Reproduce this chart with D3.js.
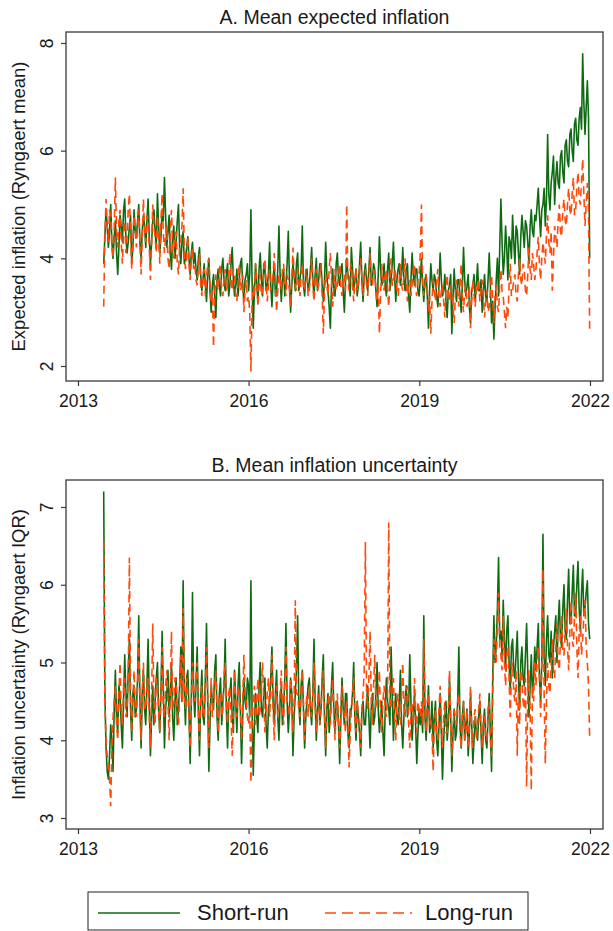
<!DOCTYPE html>
<html>
<head>
<meta charset="utf-8">
<script src="https://cdn.jsdelivr.net/npm/d3@7"></script>
<style>
  html, body { margin: 0; padding: 0; background: #fff; }
  svg { display: block; font-family: "Liberation Sans", Arial, sans-serif; }
</style>
</head>
<body>
<div id="viz"></div>
<script>
// weekly-ish observations (every 7.5 days), first one mid June 2013
const startDate = new Date(2013, 5, 15);
const stepHours = 180;

const yearTicks = [2013, 2016, 2019, 2022];
const ticksMean = [2, 4, 6, 8];
const ticksIqr = [3, 4, 5, 6, 7];
const seriesNames = ['Short-run', 'Long-run'];

const shortRunMean = [
  3.9,4.4,4.9,4.6,4.2,4.5,5.0,4.3,4.0,4.4,4.7,4.1,3.7,4.2,4.8,4.6,4.3,4.9,5.1,4.4,4.1,4.3,4.6,4.8,3.9,4.2,4.9,4.5,
  4.4,4.7,5.0,4.3,4.0,4.5,4.8,4.6,4.2,4.7,5.1,4.4,3.9,4.3,4.7,4.9,4.5,4.2,5.2,4.6,4.1,4.4,4.9,4.7,5.5,4.8,4.2,4.5,4.8,4.1,3.8,4.4,4.6,4.0,4.3,4.7,5.0,4.2,3.9,4.3,4.5,3.9,4.0,4.2,4.4,4.0,3.7,4.1,4.3,3.9,
  4.1,3.8,3.6,4.0,4.2,3.7,3.4,3.6,3.9,3.5,3.2,3.7,4.0,3.4,3.0,3.5,3.7,3.3,2.9,3.6,3.8,3.5,3.3,3.8,4.0,3.6,3.4,3.7,3.9,3.3,3.5,3.9,4.2,3.6,3.3,3.5,3.8,3.3,3.6,3.9,4.0,3.5,3.2,3.6,3.7,3.9,3.4,3.7,
  4.9,3.6,2.7,3.4,3.9,3.5,3.2,3.8,4.1,3.6,3.3,3.9,3.8,3.4,3.5,3.7,4.3,3.5,3.1,3.6,3.9,3.3,3.4,3.8,4.6,3.7,3.2,3.6,3.8,3.3,3.5,3.9,4.5,3.6,3.0,3.5,3.9,3.7,3.4,3.9,4.1,3.4,3.6,3.8,4.6,3.5,3.3,3.7,3.8,3.4,
  3.5,3.8,4.2,3.6,3.3,3.7,4.0,3.4,3.6,3.9,3.9,3.5,3.2,3.6,4.3,3.7,3.4,3.1,2.7,3.5,3.8,3.4,3.3,3.9,4.1,3.6,3.5,3.8,3.9,3.4,3.0,3.6,4.0,3.7,3.6,3.3,4.2,3.8,3.4,3.6,3.8,3.3,3.5,3.9,4.3,3.6,3.2,3.7,
  3.9,3.6,3.4,3.8,4.2,3.5,3.6,3.9,3.8,3.4,3.1,3.7,4.4,3.8,3.5,3.6,3.9,3.5,3.3,3.8,4.1,3.4,3.6,3.9,4.3,3.7,3.2,3.6,3.8,3.9,3.5,3.7,4.2,3.6,3.4,3.8,3.9,3.3,3.0,3.6,4.1,3.7,3.5,3.8,3.8,3.4,3.3,3.6,
  4.0,3.5,3.2,3.6,3.7,3.3,2.7,3.4,3.9,3.6,3.4,3.7,3.6,3.3,3.1,3.5,4.1,3.6,3.3,3.4,3.7,3.2,2.9,3.4,3.5,3.7,2.6,3.3,3.8,3.4,3.2,3.6,3.6,3.3,3.0,3.5,4.2,3.6,3.3,3.5,3.7,3.1,2.8,3.4,3.5,3.7,3.2,3.5,3.9,3.4,
  3.4,3.6,3.0,3.4,3.7,3.3,3.2,3.6,4.1,3.5,2.8,3.2,2.5,3.1,3.6,4.0,3.3,4.2,5.1,4.3,3.7,4.0,4.6,4.2,3.6,4.4,4.3,4.0,4.8,4.3,3.9,4.6,4.5,4.1,3.7,4.4,4.8,4.5,4.2,4.7,4.6,4.3,3.9,4.6,4.9,4.5,4.4,4.8,
  4.7,5.0,5.3,4.8,4.4,4.9,5.0,5.3,4.6,5.1,6.3,5.2,4.9,5.4,5.6,5.9,5.0,5.5,5.8,5.4,5.3,5.9,6.0,5.6,5.4,6.1,6.2,5.8,5.7,6.3,6.4,6.0,5.8,6.5,6.6,6.2,6.1,6.6,6.8,6.4,7.8,6.9,6.3,6.8,7.3,6.6,4.0
];

const longRunMean = [
  3.1,4.4,5.1,4.6,4.3,4.9,4.8,4.2,4.0,4.6,5.5,4.5,4.2,4.7,4.9,4.3,3.9,4.5,4.7,4.1,4.4,4.9,5.2,4.4,3.8,4.3,4.8,4.5,
  4.2,4.6,4.9,4.3,3.7,4.4,5.1,4.5,4.3,4.8,4.7,4.2,3.6,4.3,5.0,4.6,4.4,4.1,4.8,4.4,3.9,4.7,5.2,4.5,4.1,4.4,4.6,4.0,3.8,4.5,4.9,4.2,4.0,4.4,4.5,3.9,3.7,4.2,4.3,4.6,5.3,4.1,3.8,4.0,4.4,3.9,3.6,4.0,4.2,3.8,
  3.9,3.6,3.5,3.8,4.1,3.5,3.3,3.7,3.8,3.3,3.6,3.9,4.0,3.5,3.2,3.4,2.35,3.3,3.7,3.5,3.4,3.8,3.9,3.4,3.3,3.6,3.8,3.4,3.5,3.7,4.1,3.6,3.4,3.8,3.7,3.3,3.2,3.6,3.9,3.4,3.5,3.7,3.0,3.4,3.6,3.2,3.3,3.0,
  1.9,3.2,3.5,3.3,3.9,3.6,3.1,3.5,3.7,3.3,3.4,3.8,4.0,3.6,3.2,3.5,3.8,3.4,3.5,3.7,4.1,3.5,3.0,3.4,3.7,3.6,3.4,3.8,3.9,3.5,3.3,3.7,3.6,3.4,3.1,3.6,4.2,3.7,3.5,3.4,3.8,3.6,3.3,3.7,3.9,3.5,3.4,3.8,3.7,3.3,
  3.4,3.7,4.0,3.5,3.2,3.6,3.8,3.4,3.5,3.7,3.9,3.3,2.6,3.4,3.7,3.5,3.3,3.8,4.1,3.6,3.1,3.5,3.8,3.4,3.5,3.7,3.9,3.5,3.3,3.6,3.7,3.4,5.0,3.6,3.4,3.8,3.9,3.5,3.2,3.6,3.8,3.4,3.5,3.8,4.0,3.6,3.3,3.6,
  3.8,3.5,3.3,3.7,4.1,3.6,3.5,3.8,3.7,3.4,3.2,3.5,2.6,3.3,3.9,3.6,3.4,3.7,3.8,3.4,3.1,3.6,4.0,3.5,3.5,3.8,3.7,3.4,3.3,3.6,3.9,3.5,3.4,3.7,4.0,3.6,3.2,3.5,3.6,3.3,3.5,3.8,3.9,3.4,3.3,3.6,3.7,4.1,
  5.0,3.6,3.3,3.5,3.7,3.4,3.0,3.3,2.6,3.2,3.6,3.4,3.2,3.6,3.8,3.3,3.1,3.4,3.5,3.2,2.9,3.4,3.7,3.3,3.2,3.5,3.4,3.1,2.8,3.3,3.6,3.4,3.1,3.5,3.9,3.3,3.0,3.4,3.5,3.1,3.2,3.5,2.7,3.2,3.6,3.3,3.1,3.5,3.4,3.6,
  3.2,3.4,3.6,3.3,2.9,3.2,3.4,3.0,3.1,3.4,3.7,3.2,2.8,3.3,3.5,3.1,3.0,3.5,3.8,3.4,3.3,3.0,2.7,3.1,2.9,3.5,3.9,3.3,3.4,3.6,3.7,3.3,3.2,3.7,4.0,3.6,3.5,3.9,3.8,3.4,3.3,3.7,4.2,3.8,3.6,4.1,3.9,3.6,
  3.8,4.1,4.4,3.9,3.6,4.0,4.3,4.1,3.9,4.4,4.8,4.3,4.1,4.5,3.4,4.0,4.6,4.4,4.2,4.7,5.0,4.5,4.4,4.9,5.1,4.7,4.6,5.0,5.3,4.9,4.8,5.2,5.5,4.8,4.9,5.3,5.6,5.1,5.0,5.4,5.85,5.2,4.6,5.0,5.4,4.9,2.6
];

const shortRunIqr = [
  7.2,4.6,3.9,3.6,3.5,3.8,4.2,4.0,3.6,4.4,4.9,4.3,4.1,4.7,4.6,4.2,3.9,4.5,5.1,4.6,4.3,4.9,5.3,4.4,4.0,4.6,4.7,4.3,
  4.4,4.8,5.6,4.5,3.9,4.6,4.9,4.4,4.2,4.7,5.3,4.5,3.8,4.3,4.7,4.2,4.5,4.8,5.0,4.4,4.1,4.6,5.4,4.7,3.9,4.4,4.6,4.9,4.3,4.6,5.0,4.3,4.0,4.5,4.8,4.2,4.4,4.7,5.2,4.5,6.05,4.6,4.2,4.8,4.9,4.4,3.7,4.5,5.9,4.6,
  4.3,4.7,5.2,4.4,3.8,4.5,4.9,4.3,4.2,4.8,5.5,4.6,3.6,4.2,4.7,4.5,4.4,4.9,5.1,4.3,4.0,4.6,4.8,4.2,4.5,4.7,5.3,4.4,3.9,4.5,4.6,4.8,4.3,4.1,4.9,4.5,4.1,4.7,5.0,4.4,3.7,4.3,4.8,4.5,4.4,4.8,4.7,4.3,
  6.05,4.4,3.55,4.2,4.6,4.3,4.1,4.7,5.0,4.4,4.3,4.6,4.8,4.2,3.9,4.4,4.5,4.8,5.2,4.5,4.2,4.6,4.9,4.3,4.0,4.5,4.7,4.2,4.4,4.8,5.5,4.5,4.1,4.4,4.8,4.6,3.8,4.3,4.6,4.9,5.6,4.5,4.2,4.7,4.9,4.4,3.9,4.3,4.5,4.7,
  4.8,4.4,4.2,4.6,5.3,4.5,4.0,4.4,4.7,4.2,4.4,4.8,5.1,4.3,3.8,4.4,4.6,4.1,4.3,4.7,5.0,4.4,4.1,4.5,4.5,4.2,3.7,4.3,4.8,4.4,4.2,4.6,4.6,4.1,3.9,4.4,4.4,4.6,5.0,4.3,4.0,4.5,4.3,4.1,3.8,4.4,4.5,4.2,
  4.2,4.5,4.7,4.3,3.9,4.4,4.6,4.2,4.3,4.6,5.0,4.4,4.1,4.3,4.5,4.1,3.8,4.4,4.8,4.5,4.4,4.2,5.2,4.6,4.0,4.4,4.6,4.3,4.2,4.5,4.9,4.2,3.9,4.3,4.5,4.7,4.3,4.4,5.1,4.5,4.0,4.3,4.6,4.2,3.7,4.1,4.4,4.2,
  4.4,4.1,5.6,4.3,4.0,4.4,4.7,4.1,4.2,4.5,3.9,4.3,4.5,4.0,3.8,4.2,4.6,4.1,3.5,4.0,4.3,4.5,4.0,4.2,4.8,4.3,3.6,4.1,4.4,4.0,4.1,4.5,5.2,4.2,3.9,4.3,4.5,4.0,4.2,4.4,3.8,4.1,4.6,4.2,3.7,4.0,4.3,4.1,4.0,4.3,
  4.5,4.1,3.7,4.2,4.4,4.0,3.9,4.3,4.6,4.1,3.6,4.8,5.6,5.0,5.2,5.7,6.35,5.3,5.4,5.1,5.8,5.3,4.9,5.4,5.6,5.0,4.6,5.2,5.3,4.9,4.8,5.1,5.4,4.8,4.4,5.0,5.2,4.8,4.7,5.1,5.5,4.9,4.3,4.7,5.1,4.6,4.8,5.2,
  4.9,5.2,5.5,4.8,4.5,5.0,6.65,5.1,4.7,5.3,5.6,5.1,5.0,5.4,4.8,5.2,5.4,5.6,5.0,5.5,5.8,5.3,5.2,5.7,6.0,5.4,5.3,5.8,6.2,5.5,5.5,5.9,6.25,5.6,5.6,6.0,6.3,5.7,5.4,5.9,6.2,5.6,5.7,5.9,6.05,5.5,5.3
];

const longRunIqr = [
  6.55,4.5,4.0,3.8,3.7,3.5,3.15,3.9,4.3,4.5,4.7,4.2,4.0,4.6,5.0,4.4,4.2,4.7,4.8,4.3,4.4,4.8,6.35,4.6,4.1,4.5,4.9,4.4,
  4.3,4.7,5.3,4.5,4.0,4.6,5.0,4.4,4.4,4.7,4.8,4.3,3.9,4.6,5.5,4.5,4.2,4.8,4.7,4.4,4.1,4.6,5.2,4.4,4.3,4.7,4.9,4.5,4.0,4.6,5.4,4.4,4.5,4.8,4.8,4.3,4.2,4.6,5.1,4.5,5.7,4.6,4.4,4.8,4.6,4.3,3.9,4.5,5.0,4.6,
  4.5,4.8,5.0,4.4,4.0,4.5,4.7,4.3,4.3,4.7,5.2,4.5,3.9,4.4,4.8,4.3,4.5,4.7,4.9,4.4,4.1,4.6,4.6,4.3,4.4,4.8,5.0,4.5,4.2,4.6,4.7,4.3,3.8,4.4,4.9,4.5,4.3,4.7,4.6,4.4,4.0,4.5,5.1,4.6,4.5,4.3,4.2,4.4,
  3.45,4.2,4.5,4.7,4.2,4.5,4.8,4.3,4.4,4.7,5.0,4.5,4.1,4.4,4.6,4.8,4.3,4.6,5.1,4.4,4.0,4.5,4.7,4.3,4.4,4.6,4.9,4.4,4.2,4.7,5.2,4.5,4.5,4.3,4.8,4.6,4.1,4.5,5.8,4.6,4.6,4.4,4.3,4.7,4.9,4.5,4.0,4.4,4.6,4.3,
  4.7,4.4,4.3,4.6,5.0,4.5,4.1,4.4,4.6,4.2,4.4,4.7,4.9,4.4,3.9,4.3,4.5,4.6,4.2,4.5,4.8,4.3,4.0,4.4,4.6,4.2,3.9,4.4,4.7,4.5,4.3,4.1,4.5,4.2,3.65,4.1,4.4,4.6,4.8,4.3,4.1,4.5,4.3,4.2,3.9,4.4,4.6,4.9,
  6.55,4.6,4.4,4.8,5.4,4.5,4.2,4.7,5.1,4.4,4.5,4.6,4.9,4.3,4.1,4.5,4.7,4.4,4.3,4.6,6.8,4.5,4.4,4.7,4.8,4.3,4.0,4.5,4.6,4.3,4.2,4.6,5.0,4.4,4.3,4.6,4.7,4.2,3.9,4.4,4.5,4.2,4.8,4.4,4.1,4.5,4.4,4.3,
  4.5,4.2,5.3,4.4,4.1,4.5,4.6,4.2,4.3,4.1,3.6,4.2,4.4,4.1,4.0,4.4,4.7,4.2,3.9,4.3,4.5,4.1,4.1,4.4,4.9,4.2,3.8,4.1,4.4,4.3,4.2,4.5,4.6,4.1,3.9,4.3,4.5,4.0,4.1,4.4,3.9,4.2,4.7,4.1,3.9,4.3,4.4,4.0,4.2,4.4,
  4.6,4.1,3.9,4.3,4.3,4.0,4.0,4.4,4.5,4.0,3.8,4.6,5.3,5.1,5.0,5.5,5.9,5.2,5.1,4.9,5.6,5.0,4.7,5.1,5.2,4.8,4.3,4.9,5.0,4.6,4.5,4.9,3.8,4.6,4.2,4.9,4.8,4.5,4.4,4.8,3.4,4.6,4.9,4.4,3.35,4.7,4.5,5.0,
  4.7,5.0,5.2,4.8,4.3,4.9,6.2,4.6,3.7,4.5,5.0,4.7,4.6,5.0,5.3,4.9,4.8,5.2,5.5,5.0,4.9,5.3,5.6,5.1,5.1,5.4,5.7,5.2,4.9,5.4,5.8,5.3,5.2,5.6,5.9,5.2,4.8,5.4,5.6,5.1,5.3,5.6,5.8,5.2,5.0,4.7,4.0
];

(() => {
  let width = 613, height = 931;
  let plotLeft = 66, plotRight = 603, plotHeight = 349;

  let green = '#0f6b12', orange = '#ff4a0a';

  let dates = shortRunMean.map((d, i) => d3.timeHour.offset(startDate, i * stepHours));

  let svg = d3.select('#viz')
    .append('svg')
    .attr('width', width)
    .attr('height', height);

  let x = d3.scaleTime()
    .domain([new Date(2013, 0, 1), new Date(2022, 0, 1)])
    .range([78, 590]);

  let panels = [
    { top: 32, title: 'A. Mean expected inflation', ylab: 'Expected inflation (Ryngaert mean)',
      domain: [2, 8], range: [334, 11], ticks: ticksMean, sr: shortRunMean, lr: longRunMean },
    { top: 480, title: 'B. Mean inflation uncertainty', ylab: 'Inflation uncertainty (Ryngaert IQR)',
      domain: [3, 7], range: [338, 27], ticks: ticksIqr, sr: shortRunIqr, lr: longRunIqr }
  ];

  panels.forEach(p => {
    let g = svg.append('g')
      .attr('transform', `translate(0, ${p.top})`);

    let y = d3.scaleLinear()
      .domain(p.domain)
      .range(p.range);

    g.append('text')
      .attr('x', (plotLeft + plotRight) / 2)
      .attr('y', -8)
      .attr('text-anchor', 'middle')
      .style('font-size', '19.5px')
      .style('fill', '#1a1a1a')
      .text(p.title);

    let line = d3.line()
      .x((d, i) => x(dates[i]))
      .y(d => y(d));

    g.append('path')
      .datum(p.sr)
      .attr('d', line)
      .attr('fill', 'none')
      .attr('stroke', green)
      .attr('stroke-width', 1.6)
      .attr('stroke-linejoin', 'round');

    g.append('path')
      .datum(p.lr)
      .attr('d', line)
      .attr('fill', 'none')
      .attr('stroke', orange)
      .attr('stroke-width', 1.6)
      .attr('stroke-dasharray', '8,5');

    g.append('rect')
      .attr('x', plotLeft)
      .attr('y', 0)
      .attr('width', plotRight - plotLeft)
      .attr('height', plotHeight)
      .attr('fill', 'none')
      .attr('stroke', '#3a3a3a')
      .attr('stroke-width', 1.3);

    let yAxis = g.append('g')
      .attr('transform', `translate(${plotLeft}, 0)`)
      .call(d3.axisLeft(y).tickValues(p.ticks).tickSize(5).tickFormat(d3.format('d')));
    yAxis.select('.domain').remove();
    yAxis.selectAll('line').attr('stroke', '#3a3a3a').attr('stroke-width', 1.2);
    yAxis.selectAll('text')
      .attr('transform', 'rotate(-90)')
      .attr('x', 0)
      .attr('y', -13)
      .attr('dy', 0)
      .attr('text-anchor', 'middle')
      .style('font-size', '17.5px')
      .style('font-family', '"Liberation Sans", Arial, sans-serif')
      .style('fill', '#1a1a1a');

    let xAxis = g.append('g')
      .attr('transform', `translate(0, ${plotHeight})`)
      .call(d3.axisBottom(x)
        .tickValues(yearTicks.map(yr => new Date(yr, 0, 1)))
        .tickSize(5)
        .tickPadding(9)
        .tickFormat(d3.timeFormat('%Y')));
    xAxis.select('.domain').remove();
    xAxis.selectAll('line').attr('stroke', '#3a3a3a').attr('stroke-width', 1.2);
    xAxis.selectAll('text')
      .style('font-size', '17.5px')
      .style('font-family', '"Liberation Sans", Arial, sans-serif')
      .style('fill', '#1a1a1a');

    g.append('text')
      .attr('transform', `translate(25, ${plotHeight / 2}) rotate(-90)`)
      .attr('text-anchor', 'middle')
      .style('font-size', '18.5px')
      .style('fill', '#1a1a1a')
      .text(p.ylab);
  });

  // legend
  let legend = svg.append('g')
    .attr('transform', 'translate(88, 892)');

  legend.append('rect')
    .attr('width', 440)
    .attr('height', 38)
    .attr('fill', '#fff')
    .attr('stroke', '#222')
    .attr('stroke-width', 1);

  let items = [
    { name: seriesNames[0], color: green, dash: null, x0: 10, x1: 92, tx: 109 },
    { name: seriesNames[1], color: orange, dash: '11,6', x0: 237, x1: 324, tx: 337 }
  ];

  items.forEach(it => {
    legend.append('line')
      .attr('x1', it.x0)
      .attr('x2', it.x1)
      .attr('y1', 21)
      .attr('y2', 21)
      .attr('stroke', it.color)
      .attr('stroke-width', 1.6)
      .attr('stroke-dasharray', it.dash);

    legend.append('text')
      .attr('x', it.tx)
      .attr('y', 28)
      .style('font-size', '22px')
      .style('fill', '#1a1a1a')
      .text(it.name);
  });
})();
</script>
</body>
</html>
